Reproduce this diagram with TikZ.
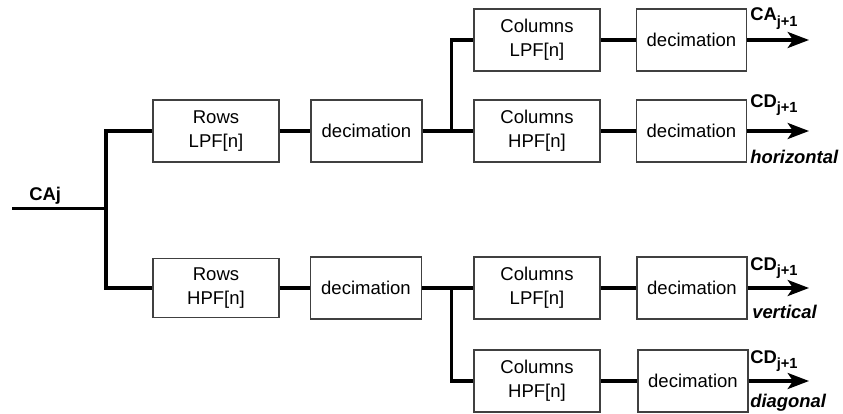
\documentclass[tikz,border=0pt]{standalone}
\usepackage{fontspec}
\setmainfont{Liberation Sans}
\usetikzlibrary{arrows.meta}
\newcommand{\subj}[1]{\raisebox{-4pt}{\fontsize{11}{12}\selectfont #1}}
\begin{document}
\begin{tikzpicture}[x=0.75pt,y=-0.75pt,
 box/.style={draw=black!75, line width=1.1pt, inner sep=0pt, align=center,
   font=\fontsize{13.9}{18.2}\selectfont, minimum height=46.5pt},
 filtbox/.style={box, minimum width=94.5pt},
 decbox/.style={box, minimum width=82.5pt},
 wire/.style={line width=2.5pt},
 outarrow/.style={wire, -{Stealth[length=16pt 0 0,width=12pt 0 0,inset=4pt 0]}},
 lab/.style={font=\bfseries\fontsize{13.8}{15}\selectfont, anchor=base west, inner sep=0pt},
 ilab/.style={font=\bfseries\itshape\fontsize{13.8}{16}\selectfont, anchor=base west, inner sep=0pt}]
\useasboundingbox (0,0) rectangle (843,414);

% first stage
\node[filtbox] (rl) at (216,131) {Rows\\LPF[n]};
\node[filtbox, minimum height=44pt] (rh) at (216,288) {Rows\\HPF[n]};
\node[decbox, minimum width=83.25pt] (d1) at (366.5,131) {decimation};
\node[decbox, minimum width=83.25pt] (d2) at (366,288) {decimation};

% second stage
\node[filtbox] (cl1) at (537,40) {Columns\\LPF[n]};
\node[filtbox] (ch1) at (537,131) {Columns\\HPF[n]};
\node[filtbox] (cl2) at (537,288) {Columns\\LPF[n]};
\node[filtbox] (ch2) at (537,381) {Columns\\HPF[n]};
\node[decbox] (dd1) at (691.5,40) {decimation};
\node[decbox] (dd2) at (691.5,131) {decimation};
\node[decbox] (dd3) at (692,288) {decimation};
\node[decbox] (dd4) at (693,381) {decimation};

% input
\coordinate (in) at (12,208.7);
\coordinate (j0) at (106,208.7);
\node[lab] (caj) at (29,200.7) {CAj};
\draw[wire] (in) -- (j0);
\draw[wire] (rl.west) -| (j0) |- (rh.west);

% first stage wires
\draw[wire] (rl.east) -- (d1.west);
\draw[wire] (rh.east) -- (d2.west);

% branches
\coordinate (b1) at (451.7,131);
\coordinate (b2) at (451.7,288);
\draw[wire] (d1.east) -- (ch1.west);
\draw[wire] (b1) |- (cl1.west);
\draw[wire] (d2.east) -- (cl2.west);
\draw[wire] (b2) |- (ch2.west);

% column to decimation
\draw[wire] (cl1.east) -- (dd1.west);
\draw[wire] (ch1.east) -- (dd2.west);
\draw[wire] (cl2.east) -- (dd3.west);
\draw[wire] (ch2.east) -- (dd4.west);

% outputs
\coordinate (o1) at (809,40);
\coordinate (o2) at (809,131);
\coordinate (o3) at (809,288);
\coordinate (o4) at (809,381);
\draw[outarrow] (dd1.east) -- (o1);
\draw[outarrow] (dd2.east) -- (o2);
\draw[outarrow] (dd3.east) -- (o3);
\draw[outarrow] (dd4.east) -- (o4);

% labels
\node[lab] (l1) at (750,20.7) {CA\subj{j+1}};
\node[lab] (l2) at (750,107) {CD\subj{j+1}};
\node[ilab] (l2b) at (750,163) {horizontal};
\node[lab] (l3) at (750,270) {CD\subj{j+1}};
\node[ilab] (l3b) at (752,318) {vertical};
\node[lab] (l4) at (750,363) {CD\subj{j+1}};
\node[ilab] (l4b) at (750,407) {diagonal};
\end{tikzpicture}
\end{document}
